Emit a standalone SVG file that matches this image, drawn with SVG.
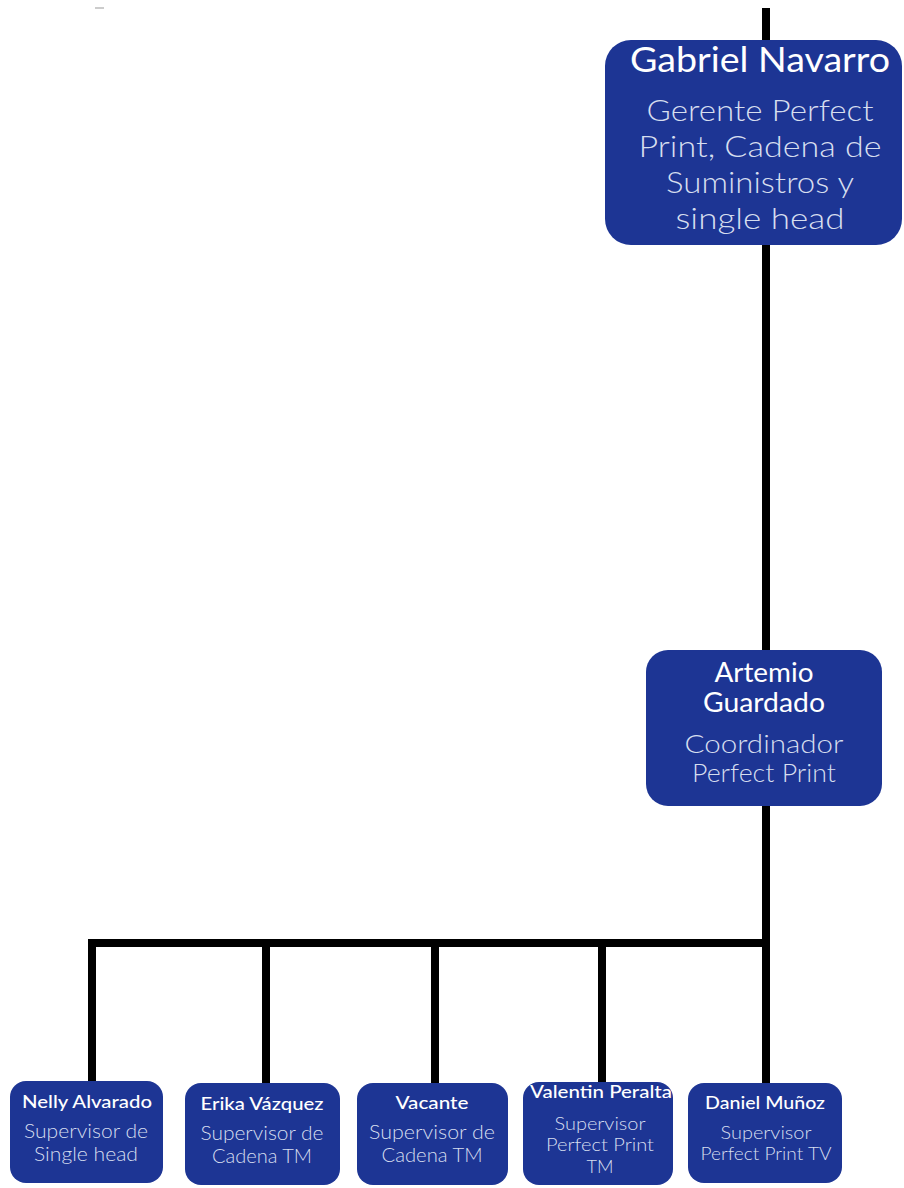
<svg xmlns="http://www.w3.org/2000/svg" width="904" height="1188" viewBox="0 0 904 1188">
<style>
.box{fill:#1d3594;}
.name{font-family:Lato,"Open Sans",sans-serif;fill:#ffffff;text-anchor:middle;font-weight:400;}
.sm{font-weight:500;}
.sub{font-family:Lato,"Open Sans",sans-serif;fill:#d6deef;text-anchor:middle;font-weight:300;}
.ln{stroke:#000;stroke-width:8;fill:none;}
</style>
<rect width="904" height="1188" fill="#fff"/>
<line x1="95" y1="8" x2="104" y2="8" stroke="#999" stroke-width="1"/>
<g id="connectors">
<line class="ln" x1="766" y1="8" x2="766" y2="1084"/>
<line class="ln" x1="88" y1="943" x2="770" y2="943" stroke-width="9"/>
<line class="ln" x1="92" y1="943" x2="92" y2="1082"/>
<line class="ln" x1="266" y1="943" x2="266" y2="1084"/>
<line class="ln" x1="435" y1="943" x2="435" y2="1084"/>
<line class="ln" x1="602" y1="943" x2="602" y2="1084"/>
</g>
<g id="gabriel">
<rect class="box" x="605" y="40" width="297" height="205" rx="26"/>
<text class="name" x="760" y="72" font-size="34" textLength="260" lengthAdjust="spacingAndGlyphs">Gabriel Navarro</text>
<text class="sub" x="760" y="121" font-size="30" textLength="227" lengthAdjust="spacingAndGlyphs">Gerente Perfect</text>
<text class="sub" x="760" y="157" font-size="30" textLength="243" lengthAdjust="spacingAndGlyphs">Print, Cadena de</text>
<text class="sub" x="760" y="193" font-size="30" textLength="188" lengthAdjust="spacingAndGlyphs">Suministros y</text>
<text class="sub" x="760" y="229" font-size="30" textLength="169" lengthAdjust="spacingAndGlyphs">single head</text>
</g>
<g id="artemio">
<rect class="box" x="646" y="650" width="236" height="156" rx="22"/>
<text class="name" x="764" y="682" font-size="26" textLength="99" lengthAdjust="spacingAndGlyphs">Artemio</text>
<text class="name" x="764" y="712" font-size="26" textLength="122" lengthAdjust="spacingAndGlyphs">Guardado</text>
<text class="sub" x="764" y="753" font-size="26" textLength="159" lengthAdjust="spacingAndGlyphs">Coordinador</text>
<text class="sub" x="764" y="782" font-size="26" textLength="144" lengthAdjust="spacingAndGlyphs">Perfect Print</text>
</g>
<g id="nelly">
<rect class="box" x="10" y="1081" width="153" height="102" rx="16"/>
<text class="name sm" x="87" y="1108" font-size="18" textLength="130" lengthAdjust="spacingAndGlyphs">Nelly Alvarado</text>
<text class="sub" x="86" y="1138" font-size="20" textLength="124" lengthAdjust="spacingAndGlyphs">Supervisor de</text>
<text class="sub" x="86" y="1161" font-size="20" textLength="104" lengthAdjust="spacingAndGlyphs">Single head</text>
</g>
<g id="erika">
<rect class="box" x="185" y="1083" width="155" height="102" rx="16"/>
<text class="name sm" x="262" y="1110" font-size="18" textLength="123" lengthAdjust="spacingAndGlyphs">Erika Vázquez</text>
<text class="sub" x="262" y="1140" font-size="20" textLength="123" lengthAdjust="spacingAndGlyphs">Supervisor de</text>
<text class="sub" x="262" y="1163" font-size="20" textLength="100" lengthAdjust="spacingAndGlyphs">Cadena TM</text>
</g>
<g id="vacante">
<rect class="box" x="357" y="1083" width="151" height="102" rx="16"/>
<text class="name sm" x="432" y="1109" font-size="18" textLength="73" lengthAdjust="spacingAndGlyphs">Vacante</text>
<text class="sub" x="432" y="1139" font-size="20" textLength="126" lengthAdjust="spacingAndGlyphs">Supervisor de</text>
<text class="sub" x="432" y="1162" font-size="20" textLength="101" lengthAdjust="spacingAndGlyphs">Cadena TM</text>
</g>
<g id="valentin">
<rect class="box" x="523" y="1082" width="150" height="103" rx="16"/>
<text class="name sm" x="601" y="1098" font-size="18" textLength="142" lengthAdjust="spacingAndGlyphs">Valentin Peralta</text>
<text class="sub" x="600" y="1130" font-size="18" textLength="91" lengthAdjust="spacingAndGlyphs">Supervisor</text>
<text class="sub" x="600" y="1151" font-size="18" textLength="108" lengthAdjust="spacingAndGlyphs">Perfect Print</text>
<text class="sub" x="600" y="1173" font-size="18" textLength="27" lengthAdjust="spacingAndGlyphs">TM</text>
</g>
<g id="daniel">
<rect class="box" x="688" y="1083" width="154" height="100" rx="16"/>
<text class="name sm" x="765" y="1109" font-size="18" textLength="120" lengthAdjust="spacingAndGlyphs">Daniel Muñoz</text>
<text class="sub" x="766" y="1139" font-size="18" textLength="91" lengthAdjust="spacingAndGlyphs">Supervisor</text>
<text class="sub" x="766" y="1160" font-size="18" textLength="131" lengthAdjust="spacingAndGlyphs">Perfect Print TV</text>
</g>
</svg>
